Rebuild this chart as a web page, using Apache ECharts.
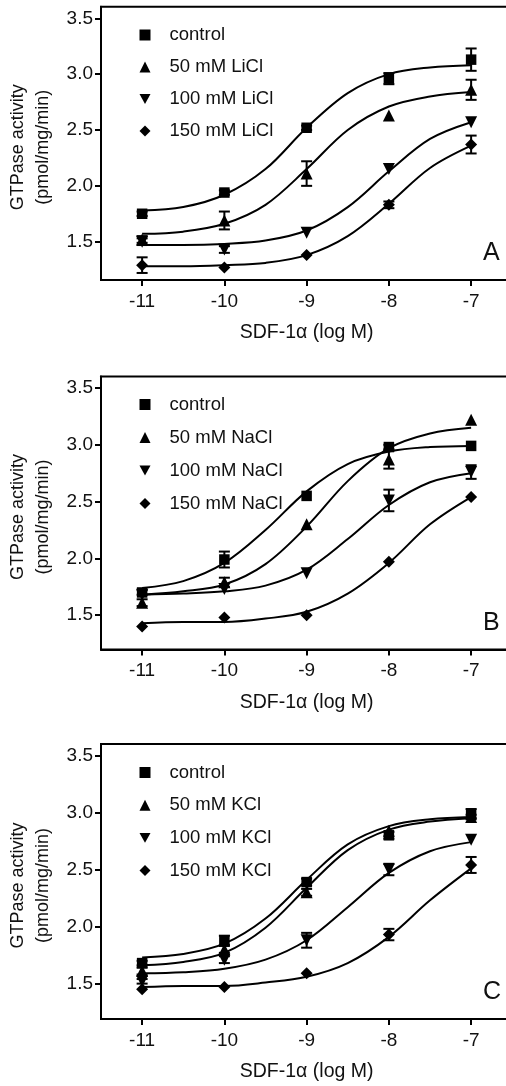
<!DOCTYPE html>
<html><head><meta charset="utf-8">
<script src="https://cdn.jsdelivr.net/npm/echarts@6/dist/echarts.min.js"></script>
<style>html,body{margin:0;padding:0;background:#fff}#c{width:506px;height:1086px}</style>
</head><body><div id="c"></div>
<script>
// ---- data ----
const xTicks = [-11, -10, -9, -8, -7];
const yTicks = [1.5, 2.0, 2.5, 3.0, 3.5];
const doses = [-11, -10, -9, -8, -7];
const fitX = [-11, -10.5, -10, -9.5, -9, -8.5, -8, -7.5, -7];
const panelLetters = ['A', 'B', 'C'];
const xTitle = 'SDF-1\u03b1 (log M)';
const yTitle = 'GTPase activity\n(pmol/mg/min)';

// Panel A (LiCl)
const namesA = ['control', '50 mM LiCl', '100 mM LiCl', '150 mM LiCl'];
const ctrlA = [1.75, 1.94, 2.52, 2.96, 3.13];
const ctrlAErr = [0.02, 0.02, 0.02, 0.05, 0.10];
const li50 = [1.52, 1.69, 2.11, 2.63, 2.86];
const li50Err = [0.03, 0.08, 0.11, 0, 0.09];
const li100 = [1.50, 1.43, 1.58, 2.15, 2.57];
const li100Err = [0.03, 0.03, 0, 0, 0];
const li150 = [1.29, 1.27, 1.38, 1.83, 2.37];
const li150Err = [0.07, 0, 0, 0.03, 0.08];
const ctrlAFit = [1.78, 1.81, 1.92, 2.15, 2.52, 2.83, 3.00, 3.06, 3.08];
const li50Fit = [1.57, 1.59, 1.66, 1.83, 2.15, 2.50, 2.71, 2.80, 2.84];
const li100Fit = [1.47, 1.47, 1.48, 1.51, 1.60, 1.81, 2.13, 2.42, 2.57];
const li150Fit = [1.28, 1.28, 1.29, 1.31, 1.38, 1.55, 1.84, 2.16, 2.36];

// Panel B (NaCl)
const namesB = ['control', '50 mM NaCl', '100 mM NaCl', '150 mM NaCl'];
const ctrlB = [1.70, 1.99, 2.55, 2.98, 2.99];
const ctrlBErr = [0.02, 0.07, 0, 0.02, 0];
const na50 = [1.61, 1.79, 2.30, 2.87, 3.22];
const na50Err = [0.03, 0.04, 0, 0.08, 0];
const na100 = [1.68, 1.73, 1.87, 2.51, 2.76];
const na100Err = [0, 0, 0, 0.095, 0.06];
const na150 = [1.40, 1.48, 1.50, 1.97, 2.54];
const na150Err = [0, 0, 0, 0, 0];
const ctrlBFit = [1.74, 1.80, 1.96, 2.25, 2.59, 2.83, 2.94, 2.98, 2.99];
const na50Fit = [1.68, 1.71, 1.77, 1.95, 2.28, 2.68, 2.97, 3.10, 3.15];
const na100Fit = [1.68, 1.69, 1.71, 1.76, 1.90, 2.17, 2.47, 2.67, 2.75];
const na150Fit = [1.43, 1.44, 1.44, 1.47, 1.53, 1.69, 1.96, 2.30, 2.54];

// Panel C (KCl)
const namesC = ['control', '50 mM KCl', '100 mM KCl', '150 mM KCl'];
const ctrlC = [1.68, 1.88, 2.39, 2.80, 2.99];
const ctrlCErr = [0.02, 0.04, 0.03, 0.03, 0.04];
const k50 = [1.61, 1.80, 2.30, 2.84, 2.96];
const k50Err = [0.03, 0.03, 0.03, 0, 0.02];
const k100 = [1.52, 1.71, 1.88, 2.50, 2.76];
const k100Err = [0.02, 0.03, 0.065, 0.05, 0];
const k150 = [1.45, 1.47, 1.59, 1.93, 2.54];
const k150Err = [0, 0, 0, 0.05, 0.07];
const ctrlCFit = [1.73, 1.76, 1.85, 2.07, 2.41, 2.72, 2.88, 2.94, 2.96];
const k50Fit = [1.66, 1.69, 1.77, 1.99, 2.34, 2.67, 2.85, 2.92, 2.95];
const k100Fit = [1.59, 1.60, 1.63, 1.71, 1.88, 2.17, 2.47, 2.66, 2.74];
const k150Fit = [1.47, 1.48, 1.48, 1.51, 1.56, 1.68, 1.91, 2.23, 2.51];

// ---- layout / style ----
const FONT = 'Arial, "Liberation Sans", Helvetica, sans-serif';
const panels = [
  { names: namesA, vals: [ctrlA, li50, li100, li150], errs: [ctrlAErr, li50Err, li100Err, li150Err],
    fits: [ctrlAFit, li50Fit, li100Fit, li150Fit], top: 6.7, bottom: 280, ymin: 1.157, ymax: 3.604, legendTop: 25.5, legendGap: 13 },
  { names: namesB, vals: [ctrlB, na50, na100, na150], errs: [ctrlBErr, na50Err, na100Err, na150Err],
    fits: [ctrlBFit, na50Fit, na100Fit, na150Fit], top: 376.6, bottom: 649.5, ymin: 1.198, ymax: 3.60, legendTop: 395, legendGap: 14 },
  { names: namesC, vals: [ctrlC, k50, k100, k150], errs: [ctrlCErr, k50Err, k100Err, k150Err],
    fits: [ctrlCFit, k50Fit, k100Fit, k150Fit], top: 744, bottom: 1019, ymin: 1.19, ymax: 3.60, legendTop: 763, legendGap: 13.7 }
];
const DOWN_TRI = 'path://M0,0L10,0L5,9Z';
const symbols = [
  { symbol: 'rect', size: 10.5 },
  { symbol: 'triangle', size: 12 },
  { symbol: DOWN_TRI, size: 12 },
  { symbol: 'diamond', size: 12 }
];

const grids = [], xAxes = [], yAxes = [], series = [], legends = [], titles = [];
panels.forEach((p, pi) => {
  grids.push({ left: 101, right: -6.25, top: p.top, height: p.bottom - p.top, show: true,
    borderColor: '#000', borderWidth: 2, backgroundColor: 'transparent', containLabel: false, outerBoundsMode: 'none' });
  xAxes.push({ gridIndex: pi, type: 'value', min: -11.5, max: -6.5,
    name: xTitle, nameLocation: 'middle', nameGap: 43,
    nameTextStyle: { fontSize: 19.5, color: '#111', fontFamily: FONT },
    axisLine: { show: true, onZero: false, lineStyle: { color: '#000', width: 2 } },
    axisTick: { show: true, length: 6, customValues: xTicks, lineStyle: { color: '#000', width: 2 } },
    axisLabel: { customValues: xTicks, margin: 12, fontSize: 19, color: '#111', fontFamily: FONT, formatter: v => String(v) },
    splitLine: { show: false } });
  yAxes.push({ gridIndex: pi, type: 'value', min: p.ymin, max: p.ymax,
    name: yTitle, nameLocation: 'middle', nameGap: 39,
    nameTextStyle: { fontSize: 18, lineHeight: 25, color: '#111', fontFamily: FONT, padding: [0, 8, 0, 0] },
    axisLine: { show: true, onZero: false, lineStyle: { color: '#000', width: 2 } },
    axisTick: { show: true, length: 6, customValues: yTicks, lineStyle: { color: '#000', width: 2 } },
    axisLabel: { customValues: yTicks, margin: 8, fontSize: 19, color: '#111', fontFamily: FONT, formatter: v => v.toFixed(1) },
    splitLine: { show: false } });
  legends.push({ orient: 'vertical', left: 139.5, top: p.legendTop, padding: 0,
    itemWidth: 11, itemHeight: 11, itemGap: p.legendGap, selectedMode: false,
    data: p.names,
    textStyle: { fontSize: 18.5, lineHeight: 18, color: '#111', fontFamily: FONT, padding: [0, 0, 0, 14] } });
  titles.push({ text: panelLetters[pi], left: 483, top: p.bottom - 26 - 13, padding: 0,
    textStyle: { fontSize: 25, fontWeight: 'normal', color: '#111', fontFamily: FONT } });

  p.names.forEach((nm, si) => {
    const sym = symbols[si];
    series.push({ type: 'line', name: nm + ' fit ' + pi, xAxisIndex: pi, yAxisIndex: pi,
      data: fitX.map((x, i) => [x, p.fits[si][i]]), smooth: 0.35,
      showSymbol: false, symbol: 'none', lineStyle: { color: '#000', width: 2 }, z: 2, silent: true });
    series.push({ type: 'custom', name: nm + ' err ' + pi, xAxisIndex: pi, yAxisIndex: pi, z: 3, silent: true,
      data: doses.map((x, i) => [x, p.vals[si][i], p.errs[si][i]]).filter(d => d[2] > 0),
      encode: { x: 0, y: 1 },
      renderItem: (params, api) => {
        const x = api.value(0), y = api.value(1), e = api.value(2);
        const t = api.coord([x, y + e]), b = api.coord([x, y - e]);
        const w = 5.5, st = { stroke: '#000', lineWidth: 2 };
        return { type: 'group', children: [
          { type: 'line', shape: { x1: t[0], y1: t[1], x2: b[0], y2: b[1] }, style: st },
          { type: 'line', shape: { x1: t[0] - w, y1: t[1], x2: t[0] + w, y2: t[1] }, style: st },
          { type: 'line', shape: { x1: b[0] - w, y1: b[1], x2: b[0] + w, y2: b[1] }, style: st }
        ] };
      } });
    series.push({ type: 'scatter', name: nm, xAxisIndex: pi, yAxisIndex: pi, z: 4,
      data: doses.map((x, i) => [x, p.vals[si][i]]),
      symbol: sym.symbol, symbolSize: sym.size,
      itemStyle: { color: '#000', opacity: 1 } });
  });
});

const chart = echarts.init(document.getElementById('c'), null, { renderer: 'canvas' });
chart.setOption({ animation: false, backgroundColor: '#fff', textStyle: { fontFamily: FONT },
  grid: grids, xAxis: xAxes, yAxis: yAxes, series, legend: legends, title: titles, tooltip: { show: false } });
</script></body></html>
